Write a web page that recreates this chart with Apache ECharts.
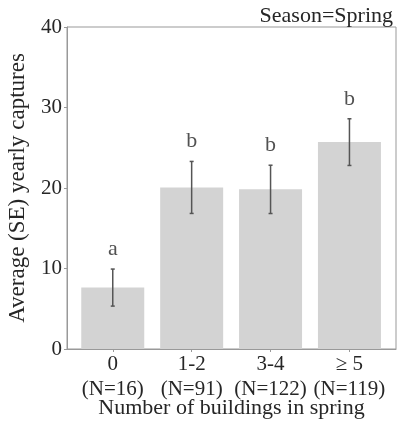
<!DOCTYPE html>
<html>
<head>
<meta charset="utf-8">
<script src="https://cdn.jsdelivr.net/npm/echarts@6/dist/echarts.min.js"></script>
<style>html,body{margin:0;background:#fff}</style>
</head>
<body>
<div id="main" style="width:400px;height:421px"></div>
<script>
const categories = ['0', '1-2', '3-4', '\u2265 5'];
const sampleN = ['(N=16)', '(N=91)', '(N=122)', '(N=119)'];
const means = [7.63, 20.07, 19.83, 25.7];
const se = [2.3, 3.23, 3.0, 2.9];
const letters = ['a', 'b', 'b', 'b'];

const font = 'Liberation Serif';
const txt = '#262626';
const idx = categories.map((c, i) => i);

const chart = echarts.init(document.getElementById('main'));
chart.setOption({
  animation: false,
  title: {
    text: 'Season=Spring', right: 2, top: 0,
    textStyle: {fontFamily: font, fontSize: 22, fontWeight: 'normal', color: txt}
  },
  grid: {
    left: 67, right: 4, top: 27, bottom: 72,
    outerBoundsMode: 'none', containLabel: false,
    show: true, borderColor: '#999', borderWidth: 1
  },
  xAxis: {
    type: 'value', min: -0.58, max: 3.59,
    name: 'Number of buildings in spring', nameLocation: 'middle', nameGap: 48,
    nameMoveOverlap: false,
    nameTextStyle: {fontFamily: font, fontSize: 22, color: txt},
    axisLine: {onZero: false, lineStyle: {color: '#999'}},
    axisTick: {show: true, customValues: idx, length: 3, lineStyle: {color: '#999'}},
    axisLabel: {
      customValues: idx, fontFamily: font, fontSize: 21, color: txt, lineHeight: 25, margin: 3,
      formatter: v => categories[v] + '\n' + sampleN[v]
    },
    splitLine: {show: false}
  },
  yAxis: {
    type: 'value', min: 0, max: 40, interval: 10,
    name: 'Average (SE) yearly captures', nameLocation: 'middle', nameGap: 38,
    nameMoveOverlap: false,
    nameTextStyle: {fontFamily: font, fontSize: 23, color: txt},
    axisLine: {show: true, onZero: false, lineStyle: {color: '#999'}},
    axisTick: {show: true, length: 3, lineStyle: {color: '#999'}},
    axisLabel: {fontFamily: font, fontSize: 21, color: txt, margin: 5},
    splitLine: {show: false}
  },
  series: [
    {
      type: 'bar', barWidth: 63,
      itemStyle: {color: '#d3d3d3'},
      data: means.map((m, i) => [i, m])
    },
    {
      type: 'custom',
      data: means.map((m, i) => [i, m - se[i], m + se[i]]),
      renderItem: (params, api) => {
        const lo = api.coord([api.value(0), api.value(1)]);
        const hi = api.coord([api.value(0), api.value(2)]);
        const st = {stroke: '#555', lineWidth: 1.5};
        return {type: 'group', children: [
          {type: 'line', shape: {x1: lo[0], y1: lo[1], x2: hi[0], y2: hi[1]}, style: st},
          {type: 'line', shape: {x1: lo[0] - 2, y1: lo[1], x2: lo[0] + 2, y2: lo[1]}, style: st},
          {type: 'line', shape: {x1: hi[0] - 2, y1: hi[1], x2: hi[0] + 2, y2: hi[1]}, style: st}
        ]};
      },
      z: 3
    },
    {
      type: 'scatter', symbolSize: 0,
      data: means.map((m, i) => [i, m + se[i]]),
      label: {
        show: true, position: 'top', distance: 9,
        fontFamily: font, fontSize: 22, color: txt,
        formatter: p => letters[p.dataIndex]
      }
    }
  ]
});
</script>
</body>
</html>
